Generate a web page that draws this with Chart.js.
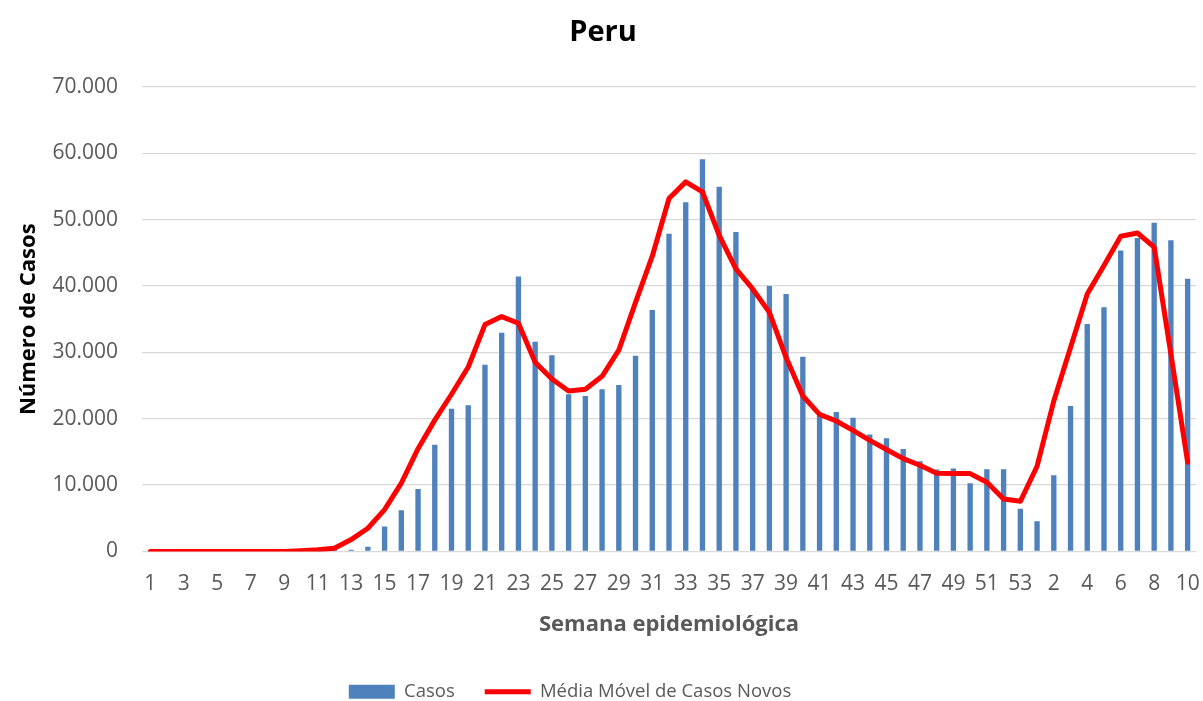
<!DOCTYPE html>
<html>
<head>
<meta charset="utf-8">
<script src="https://cdn.jsdelivr.net/npm/chart.js@4.4.1/dist/chart.umd.min.js"></script>
<style>
 html, body { margin: 0; padding: 0; background: #fff; }
 #wrap { width: 1203px; height: 701px; }
</style>
</head>
<body>
<div id="wrap"><canvas id="peruChart" width="1203" height="701"></canvas></div>
<script>
// semanas epidemiológicas 2020 (1-53) e 2021 (1-10)
const semanas = [
 1, 2, 3, 4, 5, 6, 7, 8, 9, 10, 11, 12, 13, 14, 15, 16, 17, 18, 19, 20,
 21, 22, 23, 24, 25, 26, 27, 28, 29, 30, 31, 32, 33, 34, 35, 36, 37, 38, 39, 40,
 41, 42, 43, 44, 45, 46, 47, 48, 49, 50, 51, 52, 53,
 1, 2, 3, 4, 5, 6, 7, 8, 9, 10,
];

const casos = [
 0, 0, 0, 0, 0, 0, 0, 0, 0, 50, 150, 400,
 250, 710, 3780, 6200, 9430, 16100, 21530, 22030, 28130, 32970,
 41440, 31600, 29590, 23700, 23450, 24460, 25100, 29500, 36400, 47900,
 52640, 59100, 54950, 48150, 39600, 40020, 38800, 29340, 20660, 21030,
 20170, 17640, 17080, 15450, 13600, 12350, 12500, 10280, 12400, 12400,
 6450, 4540, 11490, 21930, 34280, 36800, 45370, 47240, 49560, 46900,
 41100,
];

const mediaMovel = [
 0, 0, 0, 0, 0, 0, 0, 0, 0, 100, 250, 500,
 1800, 3500, 6300, 10300, 15500, 19800, 23700, 27800, 34200, 35400,
 34400, 28500, 26000, 24200, 24460, 26400, 30350, 37550, 44500, 53200,
 55700, 54200, 47630, 42600, 39570, 36030, 29230, 23440, 20670, 19660,
 18250, 16740, 15370, 14000, 13000, 11800, 11740, 11740, 10430, 7910,
 7560, 12850, 22680, 30740, 38800, 43090, 47500, 48000, 45880, 29730,
 13460,
];

const yTicks = [0, 10000, 20000, 30000, 40000, 50000, 60000, 70000];

const FONT = "'Open Sans', 'Liberation Sans', sans-serif";
const GREY = "#595959";

const formatMilhar = (v) => String(v).replace(/\B(?=(\d{3})+(?!\d))/g, ".");

// pequenos ajustes de posição da legenda e do título, como no original
const blockShift = {
 id: "blockShift",
 beforeDraw(chart) {
  const lg = chart.legend;
  const tt = chart.titleBlock;
  if (lg && !lg._shifted) {
   lg.left -= 28;
   lg.right -= 28;
   lg._shifted = true;
  }
  if (tt && !tt._shifted) {
   tt.left += 5;
   tt.right += 5;
   tt._shifted = true;
  }
 },
 afterUpdate(chart) {
  if (chart.legend) chart.legend._shifted = false;
  if (chart.titleBlock) chart.titleBlock._shifted = false;
 },
};

new Chart(document.getElementById("peruChart"), {
 type: "bar",
 data: {
  labels: semanas,
  datasets: [
   {
    type: "line",
    label: "Média Móvel de Casos Novos",
    data: mediaMovel,
    borderColor: "#FF0000",
    backgroundColor: "#FF0000",
    borderWidth: 5,
    pointRadius: 0,
    tension: 0,
    borderCapStyle: "round",
    borderJoinStyle: "round",
    pointStyle: "line",
    order: 0,
   },
   {
    type: "bar",
    label: "Casos",
    data: casos,
    backgroundColor: "#4F81BD",
    borderWidth: 0,
    categoryPercentage: 1,
    barPercentage: 0.32,
    pointStyle: "rect",
    order: 1,
   },
  ],
 },
 options: {
  responsive: false,
  animation: false,
  devicePixelRatio: 1,
  layout: { padding: { left: 0, right: 7, top: 0, bottom: -10 } },
  plugins: {
   title: {
    display: true,
    text: "Peru",
    color: "#000",
    font: { family: FONT, size: 29, weight: "bold" },
    padding: { top: 15.6, bottom: 36.6 },
   },
   legend: {
    position: "bottom",
    reverse: true,
    labels: {
     usePointStyle: true,
     pointStyleWidth: 46,
     boxHeight: 14,
     padding: 30,
     color: GREY,
     font: { family: FONT, size: 18.5 },
    },
   },
   tooltip: { enabled: false },
  },
  scales: {
   x: {
    grid: { display: false, drawTicks: false },
    border: { display: false },
    ticks: {
     autoSkip: false,
     maxRotation: 0,
     padding: 20,
     color: GREY,
     font: { family: FONT, size: 21 },
     callback: (val, i) => (i % 2 === 0 ? semanas[i] : ""),
    },
    title: {
     display: true,
     text: "Semana epidemiológica",
     color: GREY,
     font: { family: FONT, size: 22, weight: "bold" },
     padding: { top: 14, bottom: 15 },
    },
    afterFit(scale) {
     scale.height = 101;
     scale.paddingLeft = 0;
     scale.paddingRight = 0;
    },
   },
   y: {
    min: 0,
    max: 70000,
    afterBuildTicks(scale) {
     scale.ticks = yTicks.map((v) => ({ value: v }));
    },
    grid: { color: "#D9D9D9", lineWidth: 1.3, drawTicks: false },
    border: { display: false },
    ticks: {
     padding: 24,
     color: GREY,
     font: { family: FONT, size: 21 },
     callback: (v) => formatMilhar(v),
    },
    title: {
     display: true,
     text: "Número de Casos",
     color: "#000",
     font: { family: FONT, size: 22, weight: "bold" },
     padding: { top: 16, bottom: 0 },
    },
    afterFit(scale) {
     scale.width = 142;
     scale.paddingTop = 0;
     scale.paddingBottom = 0;
    },
   },
  },
 },
 plugins: [blockShift],
});
</script>
</body>
</html>
